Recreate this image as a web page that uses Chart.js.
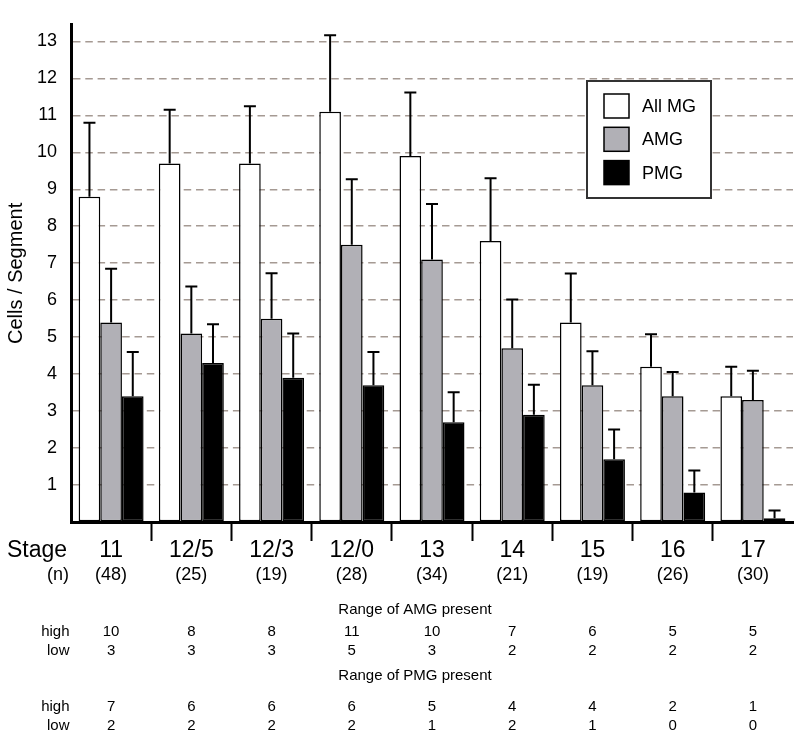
<!DOCTYPE html>
<html>
<head>
<meta charset="utf-8">
<title>Cells / Segment</title>
<script src="https://cdn.jsdelivr.net/npm/chart.js@4.4.1/dist/chart.umd.min.js"></script>
<style>
  body { margin: 0; background: #fff; }
  #wrap { width: 800px; height: 737px; }
</style>
</head>
<body>
<div id="wrap"><canvas id="myChart" width="800" height="737"></canvas></div>
<script>
// --- data ---
const stages = ['11', '12/5', '12/3', '12/0', '13', '14', '15', '16', '17'];
const nCounts = ['(48)', '(25)', '(19)', '(28)', '(34)', '(21)', '(19)', '(26)', '(30)'];

const allMG = [8.8, 9.7, 9.7, 11.1, 9.9, 7.6, 5.4, 4.2, 3.4];
const allMGErr = [2.0, 1.45, 1.55, 2.07, 1.72, 1.7, 1.32, 0.88, 0.8];
const amg = [5.4, 5.1, 5.5, 7.5, 7.1, 4.7, 3.7, 3.4, 3.3];
const amgErr = [1.45, 1.27, 1.23, 1.77, 1.5, 1.32, 0.92, 0.66, 0.79];
const pmg = [3.4, 4.3, 3.9, 3.7, 2.7, 2.9, 1.7, 0.8, 0.1];
const pmgErr = [1.2, 1.05, 1.2, 0.9, 0.81, 0.81, 0.8, 0.59, 0.21];

const amgHigh = [10, 8, 8, 11, 10, 7, 6, 5, 5];
const amgLow = [3, 3, 3, 5, 3, 2, 2, 2, 2];
const pmgHigh = [7, 6, 6, 6, 5, 4, 4, 2, 1];
const pmgLow = [2, 2, 2, 2, 1, 2, 1, 0, 0];

const yTicks = [1, 2, 3, 4, 5, 6, 7, 8, 9, 10, 11, 12, 13];

const FONT = "'Liberation Sans', Arial, sans-serif";

// error bars (upper side only) drawn on top of the bars
const errorBars = {
  id: 'errorBars',
  afterDatasetsDraw(chart) {
    const ctx = chart.ctx;
    const yScale = chart.scales.y;
    chart.data.datasets.forEach((ds, di) => {
      const meta = chart.getDatasetMeta(di);
      meta.data.forEach((bar, i) => {
        const top = yScale.getPixelForValue(ds.data[i] + ds.errors[i]);
        ctx.save();
        ctx.strokeStyle = '#000';
        ctx.lineWidth = 2;
        ctx.beginPath();
        ctx.moveTo(bar.x, bar.y);
        ctx.lineTo(bar.x, top);
        ctx.moveTo(bar.x - 6, top);
        ctx.lineTo(bar.x + 6, top);
        ctx.stroke();
        ctx.restore();
      });
    });
  }
};

// boxed legend inside the plot
const boxLegend = {
  id: 'boxLegend',
  afterDatasetsDraw(chart) {
    const ctx = chart.ctx;
    const x0 = 587, y0 = 81, w = 124, h = 117;
    ctx.save();
    ctx.fillStyle = '#fff';
    ctx.fillRect(x0, y0, w, h);
    ctx.strokeStyle = '#333';
    ctx.lineWidth = 2;
    ctx.strokeRect(x0, y0, w, h);
    ctx.font = '18px ' + FONT;
    ctx.textBaseline = 'middle';
    chart.data.datasets.forEach((ds, i) => {
      const cy = 106 + i * 33.3;
      ctx.fillStyle = ds.backgroundColor;
      ctx.fillRect(x0 + 17, cy - 12, 25, 24);
      ctx.lineWidth = 1.5;
      ctx.strokeStyle = '#000';
      ctx.strokeRect(x0 + 17, cy - 12, 25, 24);
      ctx.fillStyle = '#000';
      ctx.fillText(ds.label, x0 + 55, cy + 1);
    });
    ctx.restore();
  }
};

// table under the x axis: stage, n, ranges
const tableBelow = {
  id: 'tableBelow',
  afterDraw(chart) {
    const ctx = chart.ctx;
    const xScale = chart.scales.x;
    ctx.save();
    ctx.fillStyle = '#000';
    ctx.textBaseline = 'alphabetic';

    ctx.font = '23px ' + FONT;
    ctx.textAlign = 'left';
    ctx.fillText('Stage', 7, 557);
    ctx.textAlign = 'center';
    stages.forEach((s, i) => ctx.fillText(s, xScale.getPixelForValue(i), 557));

    ctx.font = '18px ' + FONT;
    ctx.textAlign = 'right';
    ctx.fillText('(n)', 69, 580);
    ctx.textAlign = 'center';
    nCounts.forEach((s, i) => ctx.fillText(s, xScale.getPixelForValue(i), 580));

    ctx.font = '15px ' + FONT;
    ctx.fillText('Range of AMG present', 415, 614);
    ctx.fillText('Range of PMG present', 415, 680);

    const rows = [
      ['high', amgHigh, 636],
      ['low', amgLow, 654.5],
      ['high', pmgHigh, 711],
      ['low', pmgLow, 729.5]
    ];
    rows.forEach(r => {
      ctx.textAlign = 'right';
      ctx.fillText(r[0], 69.5, r[2]);
      ctx.textAlign = 'center';
      r[1].forEach((v, i) => ctx.fillText(String(v), xScale.getPixelForValue(i), r[2]));
    });
    ctx.restore();
  }
};

const ctx = document.getElementById('myChart').getContext('2d');
const myChart = new Chart(ctx, {
  type: 'bar',
  data: {
    labels: stages,
    datasets: [
      { label: 'All MG', data: allMG, errors: allMGErr, backgroundColor: '#ffffff' },
      { label: 'AMG', data: amg, errors: amgErr, backgroundColor: '#b1b0b6' },
      { label: 'PMG', data: pmg, errors: pmgErr, backgroundColor: '#000000' }
    ]
  },
  options: {
    responsive: false,
    animation: false,
    devicePixelRatio: 1,
    layout: { padding: { top: 7, right: 7, left: 0, bottom: 0 } },
    datasets: {
      bar: {
        borderColor: '#000',
        borderWidth: 1.5,
        borderSkipped: false,
        categoryPercentage: 0.81,
        barPercentage: 1.0
      }
    },
    plugins: {
      legend: { display: false },
      tooltip: { enabled: false }
    },
    scales: {
      x: {
        afterFit: (scale) => { scale.height = 215; },
        ticks: { display: false },
        grid: {
          offset: true,
          drawOnChartArea: false,
          drawTicks: true,
          tickLength: 19,
          tickWidth: 2,
          tickColor: (c) => (c.index === undefined || c.index === 0) ? 'rgba(0,0,0,0)' : '#000'
        },
        border: { display: true, color: '#000', width: 3 }
      },
      y: {
        min: 0,
        max: 13.45,
        afterFit: (scale) => { scale.width = 71; },
        afterBuildTicks: (scale) => {
          scale.ticks = [0].concat(yTicks).map(v => ({ value: v }));
        },
        ticks: {
          padding: 14,
          color: '#000',
          font: { family: FONT, size: 18 },
          callback: (v) => v === 0 ? '' : String(v)
        },
        grid: {
          drawTicks: false,
          lineWidth: 1.6,
          color: (c) => c.tick && c.tick.value === 0 ? 'rgba(0,0,0,0)' : '#a59a93'
        },
        border: { display: true, color: '#000', width: 3, dash: [7.5, 4.8] },
        title: {
          display: true,
          text: 'Cells / Segment',
          color: '#000',
          font: { family: FONT, size: 20 },
          padding: { top: 4, bottom: 0 }
        }
      }
    }
  },
  plugins: [errorBars, boxLegend, tableBelow]
});
</script>
</body>
</html>
